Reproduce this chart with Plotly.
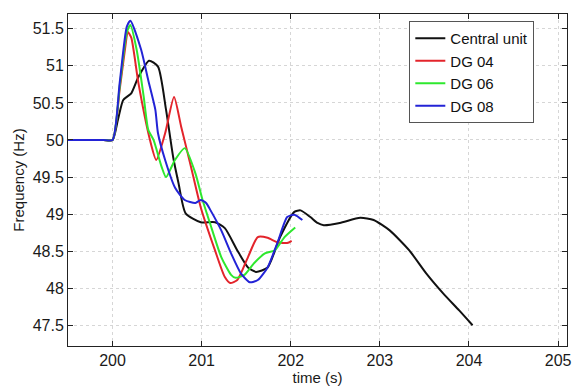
import plotly.graph_objects as go

# Frequency response after the disturbance at t = 200 s
central_t = [199.5, 199.9, 200.0, 200.06, 200.12, 200.21, 200.29, 200.41, 200.51, 200.60, 200.68,
             200.74, 200.82, 200.99, 201.15, 201.26, 201.40, 201.52, 201.61, 201.74, 201.88,
             202.04, 202.11, 202.22, 202.30, 202.37, 202.55, 202.78, 202.93, 203.11, 203.33,
             203.52, 203.71, 203.89, 204.04]
central_f = [50.0, 50.0, 50.0, 50.27, 50.54, 50.63, 50.85, 51.07, 50.99, 50.41, 49.77,
             49.42, 49.01, 48.89, 48.89, 48.81, 48.51, 48.28, 48.22, 48.28, 48.69,
             49.03, 49.05, 48.96, 48.88, 48.85, 48.88, 48.95, 48.92, 48.78, 48.51,
             48.20, 47.93, 47.70, 47.50]

dg04_t = [199.5, 199.9, 200.0, 200.08, 200.15, 200.17, 200.21, 200.29, 200.42, 200.49, 200.59,
          200.69, 200.77, 200.88, 200.99, 201.15, 201.26, 201.32, 201.40, 201.52, 201.63,
          201.74, 201.85, 201.96, 202.01]
dg04_f = [50.0, 50.0, 50.0, 50.68, 51.32, 51.46, 51.38, 50.77, 50.00, 49.73, 50.09,
          50.58, 50.18, 49.64, 49.09, 48.51, 48.15, 48.07, 48.11, 48.42, 48.69,
          48.68, 48.62, 48.61, 48.64]

dg06_t = [199.5, 199.9, 200.0, 200.08, 200.16, 200.20, 200.27, 200.35, 200.40, 200.46, 200.55,
          200.60, 200.70, 200.81, 200.93, 201.01, 201.09, 201.22, 201.33, 201.38, 201.48,
          201.59, 201.71, 201.82, 201.93, 202.05]
dg06_f = [50.0, 50.0, 50.0, 50.72, 51.45, 51.55, 51.22, 50.58, 50.14, 50.00, 49.64,
          49.50, 49.73, 49.89, 49.55, 49.19, 48.89, 48.42, 48.18, 48.14, 48.18,
          48.34, 48.47, 48.51, 48.69, 48.82]

dg08_t = [199.5, 199.9, 200.0, 200.08, 200.16, 200.20, 200.32, 200.40, 200.48, 200.51, 200.59,
          200.70, 200.81, 200.93, 200.99, 201.05, 201.10, 201.22, 201.33, 201.44, 201.54,
          201.63, 201.74, 201.85, 201.96, 202.04, 202.13]
dg08_f = [50.0, 50.0, 50.0, 50.77, 51.53, 51.61, 51.22, 50.81, 50.41, 50.09, 49.73,
          49.36, 49.19, 49.15, 49.19, 49.15, 49.05, 48.78, 48.47, 48.20, 48.08,
          48.11, 48.28, 48.61, 48.96, 48.99, 48.92]

x_ticks = [200, 201, 202, 203, 204, 205]
y_ticks = [47.5, 48, 48.5, 49, 49.5, 50, 50.5, 51, 51.5]

series = [
    ("Central unit", central_t, central_f, "#111111"),
    ("DG 04", dg04_t, dg04_f, "#e3242b"),
    ("DG 06", dg06_t, dg06_f, "#2ee82e"),
    ("DG 08", dg08_t, dg08_f, "#2323d6"),
]

fig = go.Figure()
for name, t, f, color in series:
    fig.add_trace(go.Scatter(
        x=t, y=f, name=name, mode="lines",
        line=dict(color=color, width=2, shape="spline", smoothing=0.6),
    ))

axis_common = dict(
    showline=True, linecolor="#222222", linewidth=1, mirror="allticks",
    ticks="inside", ticklen=5, tickcolor="#222222",
    showgrid=True, gridcolor="#d6d6d6", griddash="dot", gridwidth=1,
    zeroline=False, tickfont=dict(size=16, color="#1a1a1a"),
)

fig.update_xaxes(range=[199.5, 205.1], tickvals=x_ticks,
                 title=dict(text="time (s)", font=dict(size=15, color="#1a1a1a"), standoff=2),
                 **axis_common)
fig.update_yaxes(range=[47.22, 51.70], tickvals=y_ticks,
                 ticktext=[f"{v:g}" for v in y_ticks],
                 title=dict(text="Frequency (Hz)", font=dict(size=15, color="#1a1a1a"), standoff=4),
                 **axis_common)

fig.update_layout(
    width=577, height=388,
    margin=dict(l=68, r=6, t=14, b=41),
    paper_bgcolor="white", plot_bgcolor="white",
    font=dict(family="Liberation Sans, Arial, sans-serif", color="#1a1a1a"),
    legend=dict(x=0.684, y=0.979, xanchor="left", yanchor="top",
                bgcolor="white", bordercolor="#555555", borderwidth=1,
                font=dict(size=15, color="#111111"), tracegroupgap=0,
                entrywidth=145, entrywidthmode="pixels"),
)

fig.write_html("out.html")
